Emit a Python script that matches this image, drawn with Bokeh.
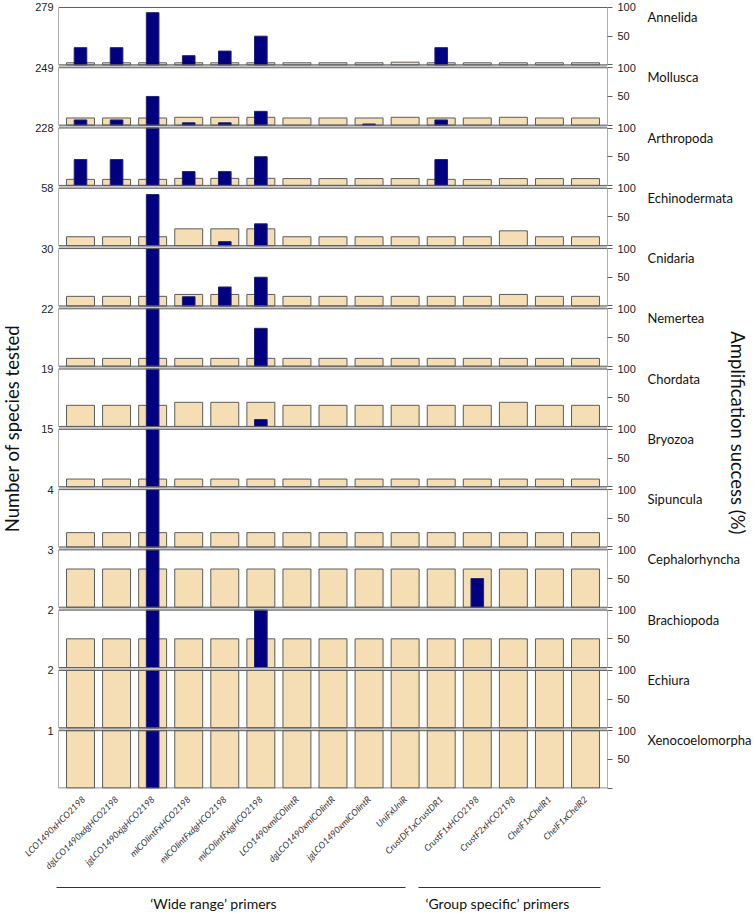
import math
from bokeh.plotting import figure
from bokeh.layouts import row, column
from bokeh.models import Range1d, LinearAxis, FixedTicker, ColumnDataSource
from bokeh.core.properties import value
from bokeh.embed import file_html
from bokeh.resources import INLINE

# ---------------- data ----------------
primers = ["LCO1490xHCO2198", "dgLCO1490xdgHCO2198", "jgLCO1490xjgHCO2198",
           "mlCOIintFxHCO2198", "mlCOIintFxdgHCO2198", "mlCOIintFxjgHCO2198",
           "LCO1490xmlCOIintR", "dgLCO1490xmlCOIintR", "jgLCO1490xmlCOIintR",
           "UniFxUniR", "CrustDF1xCrustDR1", "CrustF1xHCO2198", "CrustF2xHCO2198",
           "ChelF1xChelR1", "ChelF1xChelR2"]

taxa = ["Annelida", "Mollusca", "Arthropoda", "Echinodermata", "Cnidaria", "Nemertea",
        "Chordata", "Bryozoa", "Sipuncula", "Cephalorhyncha", "Brachiopoda", "Echiura",
        "Xenocoelomorpha"]

axis_max = [279, 249, 228, 58, 30, 22, 19, 15, 4, 3, 2, 2, 1]
pct_ticks = [0, 50, 100]
pct_labels = ["", "50", "100"]

# number of species tested (beige bars, left axis)
tested_annelida = [10, 10, 10, 10, 10, 10, 10, 10, 10, 13, 10, 10, 10, 10, 10]
tested_mollusca = [31, 31, 31, 34, 34, 34, 31, 31, 31, 34, 31, 31, 34, 31, 31]
tested_arthropoda = [24, 24, 24, 28, 28, 28, 27, 27, 27, 27, 24, 23, 27, 27, 27]
tested_echinodermata = [9, 9, 9, 17, 17, 17, 9, 9, 9, 9, 9, 9, 15, 9, 9]
tested_cnidaria = [5, 5, 5, 6, 6, 6, 5, 5, 5, 5, 5, 5, 6, 5, 5]
tested_nemertea = [3] * 15
tested_chordata = [7, 7, 7, 8, 8, 8, 7, 7, 7, 7, 7, 7, 8, 7, 7]
tested_bryozoa = [2] * 15
tested_sipuncula = [1] * 15
tested_cephalorhyncha = [2] * 15
tested_brachiopoda = [1] * 15
tested_echiura = [2] * 15
tested_xenocoelomorpha = [1] * 15

# amplification success in % (navy bars, right axis)
success_annelida = [30, 30, 91, 16, 24, 50, 0, 0, 0, 0, 30, 0, 0, 0, 0]
success_mollusca = [9, 9, 50, 4, 4, 24, 0, 0, 2, 0, 9, 0, 0, 0, 0]
success_arthropoda = [45, 45, 100, 24, 24, 50, 0, 0, 0, 0, 45, 0, 0, 0, 0]
success_echinodermata = [0, 0, 89, 0, 7, 38, 0, 0, 0, 0, 0, 0, 0, 0, 0]
success_cnidaria = [0, 0, 100, 16, 33, 50, 0, 0, 0, 0, 0, 0, 0, 0, 0]
success_nemertea = [0, 0, 100, 0, 0, 66, 0, 0, 0, 0, 0, 0, 0, 0, 0]
success_chordata = [0, 0, 100, 0, 0, 12, 0, 0, 0, 0, 0, 0, 0, 0, 0]
success_bryozoa = [0, 0, 100, 0, 0, 0, 0, 0, 0, 0, 0, 0, 0, 0, 0]
success_sipuncula = [0, 0, 100, 0, 0, 0, 0, 0, 0, 0, 0, 0, 0, 0, 0]
success_cephalorhyncha = [0, 0, 100, 0, 0, 0, 0, 0, 0, 0, 0, 50, 0, 0, 0]
success_brachiopoda = [0, 0, 100, 0, 0, 100, 0, 0, 0, 0, 0, 0, 0, 0, 0]
success_echiura = [0, 0, 100, 0, 0, 0, 0, 0, 0, 0, 0, 0, 0, 0, 0]
success_xenocoelomorpha = [0, 0, 100, 0, 0, 0, 0, 0, 0, 0, 0, 0, 0, 0, 0]

tested = [tested_annelida, tested_mollusca, tested_arthropoda, tested_echinodermata,
          tested_cnidaria, tested_nemertea, tested_chordata, tested_bryozoa,
          tested_sipuncula, tested_cephalorhyncha, tested_brachiopoda, tested_echiura,
          tested_xenocoelomorpha]
success = [success_annelida, success_mollusca, success_arthropoda, success_echinodermata,
           success_cnidaria, success_nemertea, success_chordata, success_bryozoa,
           success_sipuncula, success_cephalorhyncha, success_brachiopoda, success_echiura,
           success_xenocoelomorpha]

group_names = ["\u2018Wide range\u2019 primers", "\u2018Group specific\u2019 primers"]
group_line_start = [-0.665, 9.352]
group_line_end = [8.992, 14.388]
group_text_x = [3.679, 11.538]

# ---------------- layout constants (pixel-like units) ----------------
N = len(taxa)
PITCH = 60.42
PANEL_H = 57.5
TOP_PANEL = (N - 1) * PITCH + PANEL_H
YS, YE = -0.46, TOP_PANEL + 1.0        # 784 px frame
FRAME_H = 784
TOP_B, BOT_B = 6, 88
MAIN_H = TOP_B + FRAME_H + BOT_B       # 878
LEFT_W, MAIN_L, FRAME_W, MAIN_R = 22, 36, 550, 30
MAIN_W = MAIN_L + FRAME_W + MAIN_R     # 616
RIGHT_W = 754 - LEFT_W - MAIN_W        # 116
BOTTOM_H = 34
X0, X1 = -0.61, 14.61
PPU = FRAME_W / (X1 - X0)

BEIGE = "#F5DEB3"
NAVY = "#000080"
FRAME = "#606060"
GAP = "#c8c8c8"
TXT = "#111111"


def bare(fig):
    fig.outline_line_color = None
    fig.xgrid.visible = False
    fig.ygrid.visible = False
    return fig


# ---------------- main panels ----------------
p = bare(figure(width=MAIN_W, height=MAIN_H, x_range=Range1d(X0, X1), y_range=Range1d(YS, YE),
                output_backend="svg", toolbar_location=None,
                x_axis_location=None, y_axis_location=None,
                min_border_left=MAIN_L, min_border_right=MAIN_R,
                min_border_top=TOP_B, min_border_bottom=BOT_B))

xs = list(range(len(primers)))
bottoms = [(N - 1 - k) * PITCH for k in range(N)]
tops = [b + PANEL_H for b in bottoms]

gap_src = ColumnDataSource(dict(
    left=[X0] * (N - 1), right=[X1] * (N - 1),
    bottom=[tops[k + 1] for k in range(N - 1)], top=[bottoms[k] for k in range(N - 1)]))
p.quad(left="left", right="right", bottom="bottom", top="top", source=gap_src,
       fill_color=GAP, line_color=None)

for k in range(N):
    M = axis_max[k]
    yb = bottoms[k]
    p.extra_y_ranges[f"c{k}"] = Range1d((YS - yb) * M / PANEL_H, (YE - yb) * M / PANEL_H)
    p.extra_y_ranges[f"p{k}"] = Range1d((YS - yb) * 100 / PANEL_H, (YE - yb) * 100 / PANEL_H)

    src_c = ColumnDataSource(dict(x=xs, top=tested[k]))
    p.vbar(x="x", top="top", bottom=0, width=0.775, source=src_c, y_range_name=f"c{k}",
           fill_color=BEIGE, line_color="#5c5c5c", line_width=1)

    sx = [x for x, v in zip(xs, success[k]) if v > 0]
    sv = [v for v in success[k] if v > 0]
    src_p = ColumnDataSource(dict(x=sx, top=sv))
    p.vbar(x="x", top="top", bottom=0, width=0.35, source=src_p, y_range_name=f"p{k}",
           fill_color=NAVY, line_color="#23236e", line_width=1)

frame_src = ColumnDataSource(dict(left=[X0] * N, right=[X1] * N, bottom=bottoms, top=tops))
p.quad(left="left", right="right", bottom="bottom", top="top", source=frame_src,
       fill_color=None, line_color=FRAME, line_width=1)

left_ticks = [round(t, 3) for t in tops]
left_axis = LinearAxis(ticker=FixedTicker(ticks=left_ticks),
                       major_label_overrides={t: str(m) for t, m in zip(left_ticks, axis_max)},
                       axis_line_color=None, major_tick_line_color=None,
                       major_tick_out=0, major_tick_in=0, minor_tick_line_color=None,
                       major_label_standoff=5,
                       major_label_text_font="Liberation Sans",
                       major_label_text_font_size="11px",
                       major_label_text_color="#222222")
p.add_layout(left_axis, "left")

r_ticks, r_over = [], {}
for k in range(N):
    for v, lab in zip(pct_ticks, pct_labels):
        t = round(bottoms[k] + v / 100 * PANEL_H, 3)
        r_ticks.append(t)
        r_over[t] = lab
right_axis = LinearAxis(ticker=FixedTicker(ticks=r_ticks), major_label_overrides=r_over,
                        axis_line_color=None, major_tick_line_color=FRAME,
                        major_tick_out=5, major_tick_in=0, minor_tick_line_color=None,
                        major_label_standoff=5,
                        major_label_text_font="Liberation Sans",
                        major_label_text_font_size="11px",
                        major_label_text_color="#222222")
p.add_layout(right_axis, "right")

bottom_axis = LinearAxis(ticker=FixedTicker(ticks=xs),
                         major_label_overrides={i: s for i, s in zip(xs, primers)},
                         major_label_orientation=math.pi / 4,
                         axis_line_color=None, major_tick_line_color=None,
                         major_tick_out=0, major_tick_in=0, minor_tick_line_color=None,
                         major_label_standoff=9,
                         major_label_text_font="Lato",
                         major_label_text_font_style="italic",
                         major_label_text_font_size="9px",
                         major_label_text_color="#333333")
p.add_layout(bottom_axis, "below")

# ---------------- left title strip (frames align with the main plot in a row) ----------------
lf = bare(figure(width=LEFT_W, height=MAIN_H, x_range=Range1d(0, LEFT_W),
                 y_range=Range1d(YS, YE), output_backend="svg", toolbar_location=None,
                 x_axis_location=None, y_axis_location=None,
                 min_border_left=0, min_border_right=0,
                 min_border_top=TOP_B, min_border_bottom=BOT_B))
lf.text(x=[11], y=[YE - (429 - TOP_B)], text=["Number of species tested"], angle=math.pi / 2,
        text_align="center", text_baseline="middle", text_font=value("Lato"),
        text_font_size="18.5px", text_color=TXT)

# ---------------- right strip: taxon names and right title ----------------
rf = bare(figure(width=RIGHT_W, height=MAIN_H, x_range=Range1d(0, RIGHT_W),
                 y_range=Range1d(YS, YE), output_backend="svg", toolbar_location=None,
                 x_axis_location=None, y_axis_location=None,
                 min_border_left=0, min_border_right=0,
                 min_border_top=TOP_B, min_border_bottom=BOT_B))
name_src = ColumnDataSource(dict(y=[t - 9.5 for t in tops], text=taxa))
rf.text(x=9, y="y", text="text", source=name_src, text_align="left", text_baseline="middle",
        text_font=value("Lato"), text_font_size="13px", text_color=TXT)
rf.text(x=[99], y=[YE - (433.5 - TOP_B)], text=["Amplification success (%)"],
        angle=-math.pi / 2, text_align="center", text_baseline="middle",
        text_font=value("Lato"), text_font_size="18.5px", text_color=TXT)

# ---------------- bottom strip: primer groups ----------------
BX0 = X0 - (LEFT_W + MAIN_L) / PPU
BX1 = BX0 + 754 / PPU
bf = bare(figure(width=754, height=BOTTOM_H, x_range=Range1d(BX0, BX1),
                 y_range=Range1d(0, BOTTOM_H), output_backend="svg", toolbar_location=None,
                 x_axis_location=None, y_axis_location=None,
                 min_border_left=0, min_border_right=0, min_border_top=0, min_border_bottom=0))
grp_src = ColumnDataSource(dict(x0=group_line_start, x1=group_line_end, xm=group_text_x,
                                text=group_names))
line_y = BOTTOM_H - (887 - MAIN_H)
text_y = BOTTOM_H - (903 - MAIN_H)
bf.segment(x0="x0", y0=line_y, x1="x1", y1=line_y, source=grp_src, line_color="#333333",
           line_width=1)
bf.text(x="xm", y=text_y, text="text", source=grp_src, text_align="center",
        text_baseline="middle", text_font=value("Lato"), text_font_size="14px", text_color=TXT)

layout = column(row(lf, p, rf), bf)
open("out.html", "w").write(file_html(layout, INLINE))
